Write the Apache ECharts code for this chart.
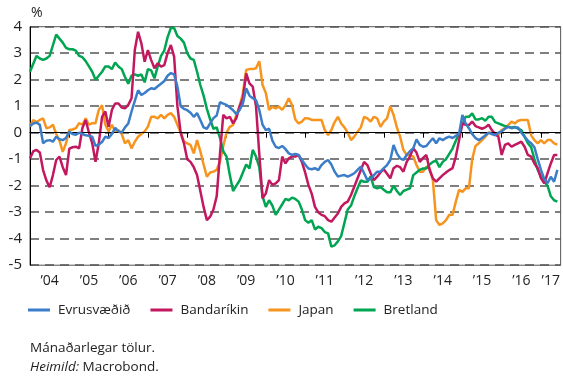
<!DOCTYPE html>
<html>
<head>
<meta charset="utf-8">
<script src="https://cdn.jsdelivr.net/npm/echarts@6/dist/echarts.min.js"></script>
<style>
  html, body { margin: 0; padding: 0; background: #fff; }
  #chart { width: 563px; height: 378px; }
</style>
</head>
<body>
<div id="chart"></div>
<script>
// Monthly series, January 2004 to June 2017 (month index 0 = Jan 2004)
const yearLabels = ['’04', '’05', '’06', '’07', '’08', '’09', '’10', '’11', '’12', '’13', '’14', '’15', '’16', '’17'];
const seriesNames = ['Evrusvæðið', 'Bandaríkin', 'Japan', 'Bretland'];

const evrusvaedid = [
  0.25, 0.35, 0.38, 0.3, -0.4, -0.3, -0.28, -0.34, -0.15, -0.25, -0.28, -0.2,
  0.04, -0.05, -0.08, 0.0, -0.05, -0.1, -0.12, -0.15, -0.5, -0.45, -0.35, -0.15,
  -0.2, -0.05, 0.18, 0.05, 0.0, 0.2, 0.35, 0.8, 1.2, 1.6, 1.42, 1.5,
  1.6, 1.68, 1.65, 1.75, 1.85, 1.95, 2.15, 2.25, 2.2, 1.74, 1.0, 0.9,
  0.85, 0.75, 0.6, 0.74, 0.48, 0.2, 0.15, 0.35, 0.55, 0.65, 1.15, 1.1,
  1.05, 0.95, 0.85, 0.7, 0.86, 1.1, 1.68, 1.4, 1.3, 1.23, 0.86, 0.3,
  0.1, 0.15, -0.3, -0.53, -0.58, -0.5, -0.62, -0.78, -0.84, -0.8, -0.84, -1.03,
  -1.2, -1.35, -1.38, -1.34, -1.41, -1.22, -1.1, -1.03, -1.2, -1.47, -1.65, -1.62,
  -1.6, -1.66, -1.6, -1.53, -1.4, -1.28, -1.53, -1.79, -1.75, -1.6, -1.47, -1.47,
  -1.34, -1.22, -1.03, -0.46, -0.78, -0.97, -1.03, -0.84, -0.7, -0.59, -0.25, -0.46,
  -0.53, -0.5, -0.35, -0.21, -0.4, -0.21, -0.28, -0.2, -0.15, -0.2, -0.12, -0.05,
  0.67, 0.35, 0.17, -0.05, -0.2, -0.28, -0.2, -0.1, 0.0, -0.05, -0.1, 0.0,
  0.05, 0.15, 0.22, 0.17, 0.2, 0.2, 0.0, -0.15, -0.3, -0.4, -0.55, -1.0,
  -1.4, -1.75, -1.91, -1.66, -1.85, -1.4
];

const bandarikin = [
  -0.97, -0.7, -0.65, -0.75, -1.41, -1.8, -2.06, -1.6, -1.03, -0.9, -1.3, -1.6,
  -0.6, -0.55, -0.53, -0.59, 0.18, 0.48, 0.0, -0.4, -1.1, -0.4, 0.6, 0.8,
  0.22, 0.86, 1.1, 1.1, 0.95, 0.92, 1.05, 1.3, 3.12, 3.81, 3.37, 2.68,
  3.12, 2.74, 2.43, 2.62, 2.49, 2.55, 3.0, 3.31, 2.87, 1.0, 0.0, -0.4,
  -1.0, -1.1, -1.3, -1.6, -2.2, -2.8, -3.3, -3.17, -2.9, -2.4, -0.8, 0.67,
  0.54, 0.6, 0.35, 0.55, 1.0, 1.3, 2.24, 1.86, 1.74, 1.0, -0.8, -2.48,
  -2.29, -1.79, -1.97, -1.91, -1.79, -0.9, -1.16, -0.97, -0.9, -0.9, -0.84, -1.1,
  -1.5, -1.97, -2.3, -2.8, -3.0, -3.1, -3.15, -3.3, -3.36, -3.2, -3.05, -2.8,
  -2.67, -2.6, -2.35, -2.04, -1.72, -1.41, -1.1, -1.22, -1.53, -1.79, -1.66, -1.5,
  -1.38, -1.55, -1.72, -1.34, -1.25, -1.3, -1.47, -1.1, -0.9, -0.59, -0.75, -1.1,
  -0.95, -0.84, -1.41, -1.72, -1.85, -1.72, -1.6, -1.5, -1.41, -1.34, -0.9, -0.28,
  0.35, 0.3, 0.29, 0.42, 0.25, 0.2, 0.15, 0.2, 0.3, 0.1, -0.05, -0.15,
  -0.84, -0.46, -0.4, -0.53, -0.46, -0.4, -0.34, -0.53, -0.84, -0.9, -1.16, -1.34,
  -1.72, -1.91, -1.53, -1.16, -0.84, -0.84
];

const japan = [
  0.23, 0.48, 0.4, 0.48, 0.54, 0.17, 0.2, 0.3, -0.05, -0.3, -0.72, -0.4,
  0.1, 0.12, 0.17, 0.36, 0.3, 0.54, 0.3, 0.36, 0.36, 0.86, 1.04, 0.3,
  0.05, 0.3, 0.05, 0.1, -0.05, -0.4, -0.28, -0.59, -0.34, -0.15, -0.05, 0.05,
  0.23, 0.6, 0.6, 0.54, 0.67, 0.54, 0.67, 0.74, 0.6, 0.3, 0.0, -0.34,
  -0.4, -0.46, -0.78, -0.28, -0.7, -1.2, -1.66, -1.5, -1.47, -1.4, -1.1, -0.5,
  0.0, 0.22, 0.29, 0.67, 1.0, 1.5, 2.37, 2.4, 2.4, 2.43, 2.7, 1.8,
  1.5, 0.86, 0.98, 0.92, 0.98, 0.86, 1.04, 1.3, 1.04, 0.5, 0.35, 0.42,
  0.55, 0.54, 0.48, 0.48, 0.48, 0.48, 0.1, -0.09, 0.1, 0.4, 0.6, 0.35,
  0.2, 0.0, -0.28, -0.15, 0.04, 0.2, 0.6, 0.54, 0.42, 0.6, 0.54, 0.22,
  0.42, 0.54, 1.0, 0.67, 0.2, -0.15, -0.65, -0.84, -0.85, -0.9, -1.22, -1.47,
  -1.47, -1.28, -1.34, -1.79, -3.3, -3.48, -3.42, -3.3, -3.1, -3.1, -2.6, -2.16,
  -2.23, -2.1, -2.1, -1.0, -0.5, -0.4, -0.28, -0.15, 0.0, 0.0, -0.05, -0.09,
  0.1, 0.17, 0.29, 0.42, 0.35, 0.45, 0.48, 0.48, 0.48, -0.1, -0.28, -0.4,
  -0.28, -0.4, -0.28, -0.28, -0.4, -0.45
];

const bretland = [
  2.3, 2.6, 2.9, 2.8, 2.75, 2.8, 2.9, 3.3, 3.7, 3.55, 3.4, 3.2,
  3.15, 3.15, 3.1, 2.9, 2.85, 2.7, 2.5, 2.3, 2.0, 2.15, 2.3, 2.5,
  2.5, 2.4, 2.65, 2.5, 2.4, 2.1, 1.85, 2.15, 2.2, 2.15, 2.2, 1.9,
  2.4, 2.35, 2.05, 2.5, 2.9, 3.1, 3.6, 3.95, 3.95, 3.65, 3.55, 3.4,
  3.0, 2.8, 2.75, 2.3, 1.8, 1.4, 0.9, 0.5, 0.15, 0.2, -0.2, -0.7,
  -0.9, -1.6, -2.2, -2.0, -1.8, -1.5, -1.2, -1.35, -0.65, -0.9, -1.3, -2.4,
  -2.8, -2.55, -2.75, -3.1, -2.9, -2.7, -2.5, -2.55, -2.45, -2.5, -2.6, -2.9,
  -3.3, -3.4, -3.3, -3.65, -3.55, -3.6, -3.75, -3.8, -4.3, -4.25, -4.1, -3.9,
  -3.4, -2.9, -2.75, -2.4, -2.1, -1.8, -1.85, -1.85, -1.65, -2.05, -2.1, -2.05,
  -2.15, -2.25, -2.25, -2.0, -2.2, -2.35, -2.2, -2.15, -2.1, -1.6, -1.5, -1.4,
  -1.35, -1.35, -1.2, -1.1, -1.05, -1.3, -1.1, -1.0, -0.8, -0.6, -0.3, -0.05,
  0.3, 0.6, 0.6, 0.73, 0.5, 0.5, 0.55, 0.45, 0.6, 0.6, 0.4, 0.35,
  0.3, 0.25, 0.22, 0.2, 0.22, 0.15, 0.1, -0.15, -0.4, -0.55, -1.0, -1.4,
  -1.65, -1.85, -2.0, -2.4, -2.55, -2.6
];

const colors = {
  'Evrusvæðið': '#3b7dc8',
  'Bandaríkin': '#c2185f',
  'Japan': '#f7941d',
  'Bretland': '#00a551'
};

// Year ticks at each January; year labels centred in the visible part of each year
const yearTicks = yearLabels.map((_, i) => i * 12);
const labelPositions = yearLabels.map((_, i) => i < yearLabels.length - 1 ? i * 12 + 6 : i * 12 + 3);

function toPoints(values) {
  return values.map((v, i) => [i, v]);
}

function lineSeries(name, values, z) {
  return {
    name: name,
    type: 'line',
    data: toPoints(values),
    showSymbol: false,
    symbol: 'none',
    smooth: false,
    z: z,
    lineStyle: { width: 2.5, color: colors[name] },
    itemStyle: { color: colors[name] },
    emphasis: { disabled: true }
  };
}

const font = 'Open Sans';
const chart = echarts.init(document.getElementById('chart'), null, { renderer: 'canvas' });

const zeroLine = {
  silent: true,
  symbol: 'none',
  label: { show: false },
  lineStyle: { color: '#000', type: 'solid', width: 1.2 },
  data: [{ yAxis: 0 }]
};

const orderedSeries = [
  lineSeries('Japan', japan, 2),
  lineSeries('Bretland', bretland, 3),
  lineSeries('Bandaríkin', bandarikin, 4),
  lineSeries('Evrusvæðið', evrusvaedid, 5)
];
orderedSeries[0].markLine = zeroLine;

chart.setOption({
  animation: false,
  backgroundColor: '#fff',
  textStyle: { fontFamily: font },
  grid: {
    left: 30, right: 1, top: 26.7, bottom: 112.8,
    show: true, borderColor: '#555', borderWidth: 1
  },
  title: {
    text: '%',
    left: 31, top: 6, padding: 0,
    textStyle: { fontFamily: font, fontSize: 14, fontWeight: 'normal', color: '#222' }
  },
  legend: {
    data: seriesNames,
    left: 23, top: 298,
    icon: 'rect',
    itemWidth: 22, itemHeight: 3,
    itemGap: 20,
    textStyle: { fontFamily: font, fontSize: 13.5, color: '#222', padding: [0, 0, 0, 3] }
  },
  xAxis: {
    type: 'value',
    min: 0, max: 162,
    interval: 12,
    axisLine: { show: true, lineStyle: { color: '#000', width: 1 } },
    axisTick: {
      show: true, length: 5, inside: false,
      customValues: yearTicks,
      lineStyle: { color: '#000', width: 1 }
    },
    axisLabel: {
      customValues: labelPositions,
      formatter: function (v) {
        const idx = labelPositions.indexOf(v);
        return idx >= 0 ? yearLabels[idx] : '';
      },
      fontFamily: font, fontSize: 14, color: '#222', margin: 9
    },
    splitLine: { show: false }
  },
  yAxis: {
    type: 'value',
    min: -5, max: 4, interval: 1,
    axisLine: { show: true, lineStyle: { color: '#000', width: 1 } },
    axisTick: { show: false },
    axisLabel: { fontFamily: font, fontSize: 15, color: '#222', margin: 8 },
    splitLine: { show: true, lineStyle: { color: '#555', type: [9, 6], width: 1.5 } }
  },
  graphic: [
    {
      type: 'text', left: 30, top: 341,
      style: { text: 'Mánaðarlegar tölur.', fontFamily: font, fontSize: 13.5, fill: '#222' }
    },
    {
      type: 'text', left: 30, top: 360,
      style: {
        rich: {
          i: { fontFamily: font, fontSize: 13.5, fontStyle: 'italic', fill: '#222' },
          n: { fontFamily: font, fontSize: 13.5, fill: '#222' }
        },
        text: '{i|Heimild:}{n| Macrobond.}'
      }
    }
  ],
  series: orderedSeries
});
</script>
</body>
</html>
